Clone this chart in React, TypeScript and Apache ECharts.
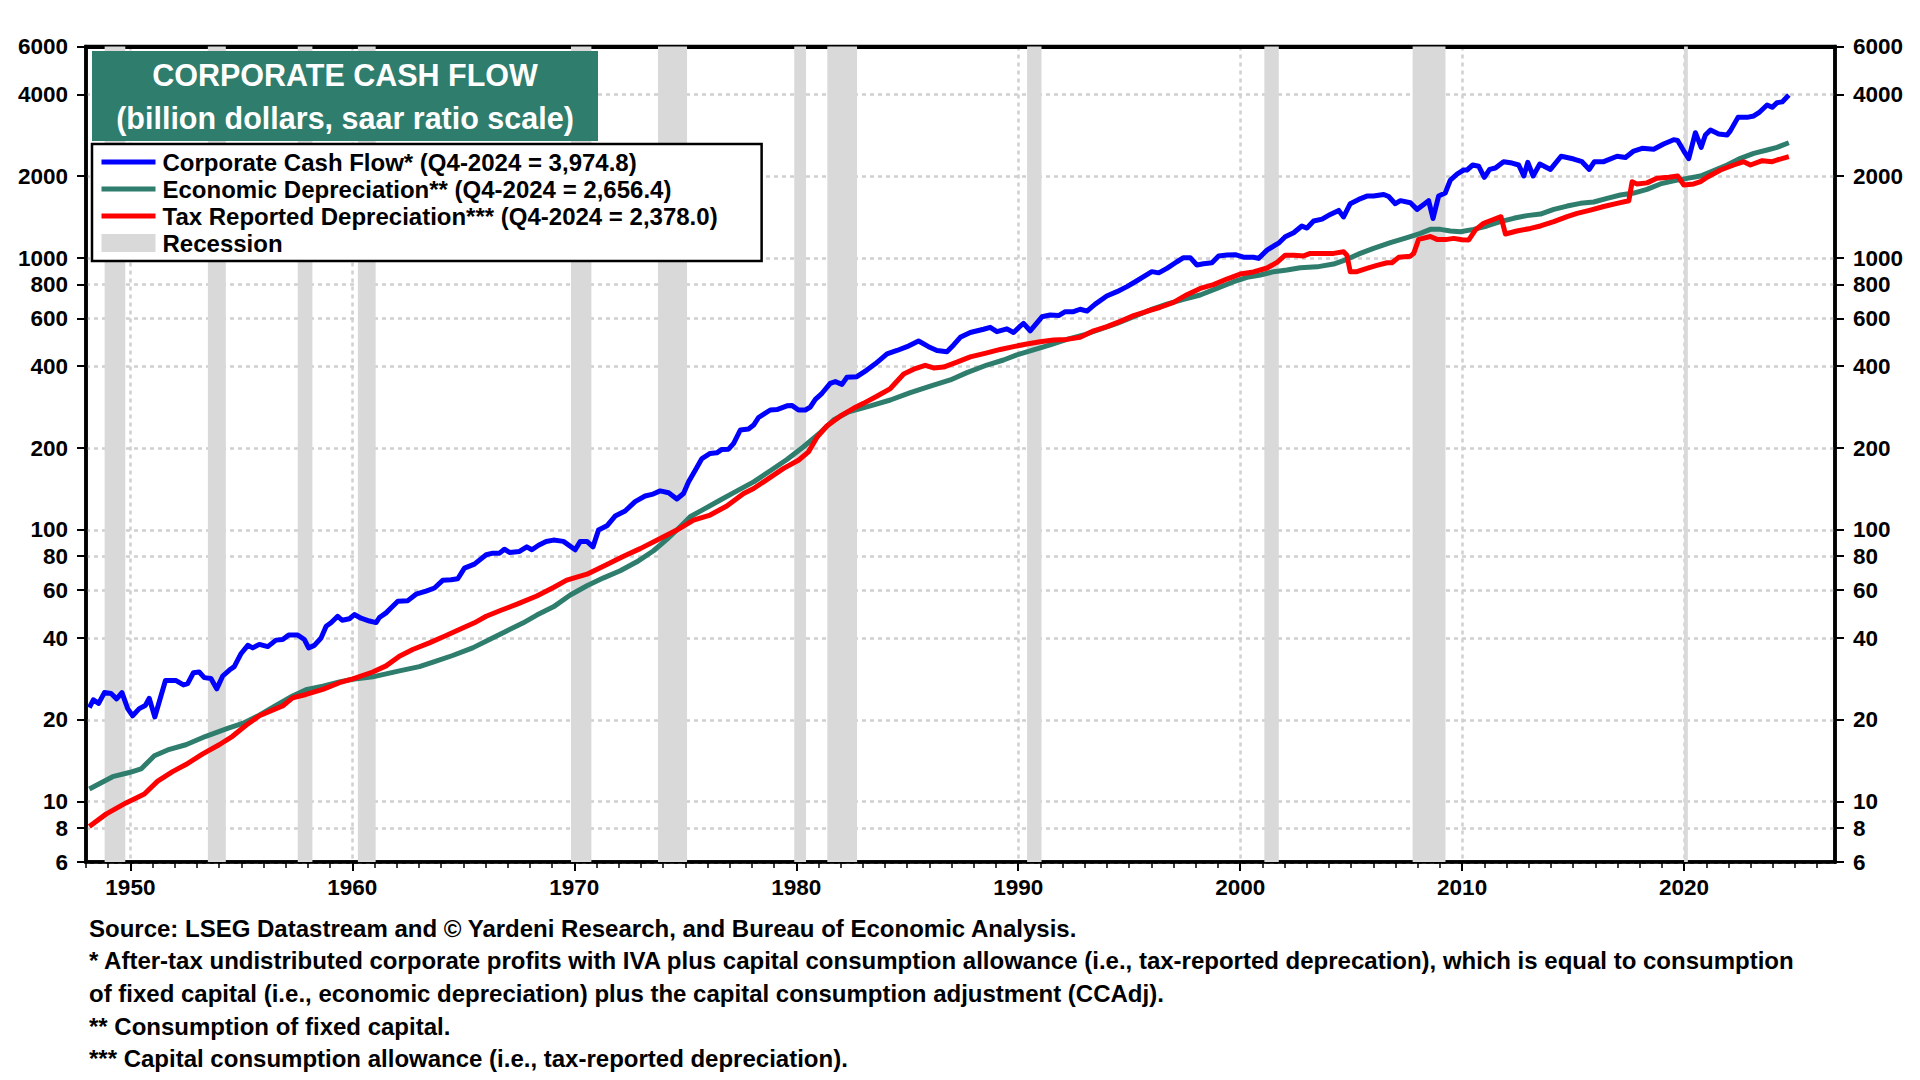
import React, { useEffect, useRef } from 'react';
import * as echarts from 'echarts';

const FONT = '"Liberation Sans", Arial, Helvetica, sans-serif';
const BLUE = '#0000ff';
const TEAL = '#2e7d6d';
const RED = '#ff0000';
const GRAY = '#d9d9d9';

// tick values (left/right axis are ratio scale)
const yTickValues = [6, 8, 10, 20, 40, 60, 80, 100, 200, 400, 600, 800, 1000, 2000, 4000, 6000];
const decadeTicks = [1950, 1960, 1970, 1980, 1990, 2000, 2010, 2020];
const yearTicks: number[] = [];
for (let y = 1948; y <= 2026; y++) yearTicks.push(y);

// recession periods [start, end]
const recessions: [number, number][] = [
  [1948.84, 1949.77], [1953.49, 1954.3], [1957.54, 1958.2], [1960.25, 1961.05],
  [1969.85, 1970.77], [1973.77, 1975.08], [1979.91, 1980.44], [1981.4, 1982.74],
  [1990.4, 1991.05], [2001.09, 2001.74], [2007.77, 2009.25], [2020.0, 2020.17],
];

// [year, billion $]
const cashFlow: [number, number][] = [
  [1948.15, 22.2], [1948.33, 23.7], [1948.57, 23.0], [1948.83, 25.2], [1949.13, 25.0], [1949.38, 23.9],
  [1949.62, 25.2], [1949.88, 22.0], [1950.1, 20.7], [1950.4, 22.0], [1950.67, 22.6], [1950.85, 24.0],
  [1951.1, 20.5], [1951.58, 27.9], [1952.06, 27.9], [1952.39, 26.9], [1952.58, 27.2], [1952.84, 29.8],
  [1953.1, 30.0], [1953.33, 28.6], [1953.63, 28.4], [1953.89, 26.0], [1954.16, 29.0], [1954.46, 30.5],
  [1954.68, 31.4], [1954.99, 35.1], [1955.29, 37.6], [1955.51, 36.8], [1955.81, 37.9], [1956.19, 37.2],
  [1956.56, 39.3], [1956.86, 39.5], [1957.13, 41.0], [1957.54, 41.0], [1957.84, 39.5], [1958.03, 36.8],
  [1958.29, 37.6], [1958.59, 40.0], [1958.82, 44.2], [1959.04, 45.5], [1959.34, 48.1], [1959.54, 46.5],
  [1959.87, 47.1], [1960.09, 48.8], [1960.39, 47.3], [1960.77, 46.2], [1961.07, 45.6], [1961.22, 47.6],
  [1961.52, 49.5], [1961.74, 51.6], [1962.05, 54.6], [1962.5, 54.9], [1962.87, 58.0], [1963.32, 59.5],
  [1963.7, 61.1], [1964.07, 65.2], [1964.45, 65.5], [1964.75, 66.1], [1965.05, 72.3], [1965.5, 74.8],
  [1966.03, 81.0], [1966.33, 82.1], [1966.63, 82.1], [1966.85, 84.9], [1967.08, 82.6], [1967.53, 83.3],
  [1967.86, 86.6], [1968.09, 84.5], [1968.39, 87.8], [1968.73, 90.6], [1969.06, 91.7], [1969.51, 90.7],
  [1970.04, 84.5], [1970.27, 90.7], [1970.57, 90.7], [1970.84, 86.6], [1971.09, 99.8], [1971.47, 103.5],
  [1971.84, 112.4], [1972.29, 117.3], [1972.74, 127], [1973.19, 133.2], [1973.5, 135], [1973.87, 139.1],
  [1974.25, 136.9], [1974.62, 129.9], [1974.92, 136.1], [1975.15, 150.2], [1975.45, 165.7], [1975.75, 183],
  [1976.12, 191], [1976.42, 192], [1976.65, 197.7], [1976.95, 198], [1977.18, 208], [1977.48, 233],
  [1977.85, 235], [1978.08, 243], [1978.3, 259], [1978.83, 276], [1979.13, 277], [1979.58, 286],
  [1979.8, 287], [1980.1, 276], [1980.41, 276], [1980.63, 283], [1980.86, 302], [1981.16, 318],
  [1981.53, 346], [1981.76, 351], [1982.06, 343], [1982.28, 364], [1982.73, 366], [1983.18, 387],
  [1983.56, 408], [1984.09, 444], [1984.54, 457], [1984.99, 472], [1985.51, 495], [1985.96, 472],
  [1986.34, 457], [1986.79, 452], [1987.09, 479], [1987.39, 511], [1987.84, 532], [1988.44, 547],
  [1988.74, 556], [1989.04, 536], [1989.49, 549], [1989.79, 532], [1990.06, 559], [1990.24, 575],
  [1990.54, 540], [1991.07, 608], [1991.44, 617], [1991.82, 614], [1992.12, 635], [1992.49, 635],
  [1992.79, 648], [1993.1, 638], [1993.47, 677], [1993.99, 725], [1994.45, 752], [1994.9, 785],
  [1995.35, 825], [1995.65, 854], [1996.02, 891], [1996.33, 882], [1996.7, 916], [1997.15, 969],
  [1997.45, 1003], [1997.75, 1003], [1998.05, 943], [1998.35, 953], [1998.73, 960], [1999.03, 1018],
  [1999.4, 1025], [1999.78, 1029], [2000.15, 1007], [2000.6, 1007], [2000.83, 997], [2001.21, 1069],
  [2001.51, 1107], [2001.73, 1134], [2002.03, 1197], [2002.41, 1239], [2002.78, 1311], [2003.01, 1289],
  [2003.31, 1368], [2003.69, 1390], [2004.06, 1447], [2004.44, 1497], [2004.66, 1417], [2004.96, 1584],
  [2005.34, 1643], [2005.71, 1690], [2006.01, 1690], [2006.47, 1714], [2006.69, 1683], [2006.99, 1584],
  [2007.22, 1626], [2007.67, 1597], [2007.97, 1510], [2008.27, 1575], [2008.49, 1626], [2008.69, 1398],
  [2008.94, 1690], [2009.24, 1735], [2009.47, 1936], [2009.77, 2037], [2010.07, 2108], [2010.22, 2108],
  [2010.48, 2199], [2010.75, 2175], [2011.0, 1981], [2011.24, 2118], [2011.5, 2143], [2011.87, 2262],
  [2012.25, 2236], [2012.55, 2199], [2012.78, 2003], [2012.96, 2250], [2013.2, 2003], [2013.5, 2218],
  [2013.98, 2118], [2014.46, 2369], [2014.73, 2343], [2015.03, 2313], [2015.4, 2262], [2015.73, 2118],
  [2015.96, 2262], [2016.38, 2262], [2016.98, 2369], [2017.36, 2343], [2017.73, 2475], [2018.11, 2532],
  [2018.63, 2513], [2019.08, 2627], [2019.53, 2725], [2019.71, 2705], [2019.99, 2475], [2020.21, 2320],
  [2020.51, 2891], [2020.77, 2554], [2020.96, 2835], [2021.19, 2957], [2021.56, 2859], [2021.94, 2835],
  [2022.09, 2942], [2022.43, 3292], [2022.84, 3292], [2023.14, 3331], [2023.37, 3424], [2023.74, 3655],
  [2023.97, 3584], [2024.19, 3728], [2024.42, 3753], [2024.72, 3975],
];

const economicDep: [number, number][] = [
  [1948.15, 11.13], [1949.2, 12.36], [1949.95, 12.8], [1950.48, 13.2], [1951.08, 14.75], [1951.68, 15.5],
  [1952.5, 16.2], [1953.4, 17.4], [1954.38, 18.6], [1955.06, 19.4], [1955.81, 20.8], [1956.64, 22.8],
  [1957.31, 24.5], [1957.91, 25.8], [1958.67, 26.6], [1959.42, 27.6], [1960.02, 28.2], [1960.92, 28.8],
  [1962.12, 30.3], [1963.02, 31.4], [1963.77, 32.9], [1964.52, 34.5], [1965.42, 36.8], [1966.18, 39.5],
  [1966.93, 42.4], [1967.68, 45.4], [1968.31, 48.6], [1969.06, 52.1], [1969.82, 57.6], [1970.57, 62.3],
  [1971.32, 66.6], [1972.07, 70.7], [1972.82, 76.3], [1973.57, 83.8], [1974.17, 92.2], [1974.77, 102.7],
  [1975.22, 111.7], [1975.82, 118.9], [1976.58, 128.8], [1977.33, 139.1], [1978.08, 150.2], [1978.83, 165],
  [1979.58, 181.5], [1980.33, 202.2], [1981.08, 228], [1981.68, 253.5], [1982.36, 272], [1983.34, 286],
  [1984.24, 300.4], [1985.14, 320], [1986.04, 338], [1986.94, 356], [1987.69, 378.7], [1988.59, 404],
  [1989.34, 421.6], [1989.94, 440], [1990.69, 459], [1991.44, 479], [1992.19, 502], [1992.95, 521],
  [1993.7, 547], [1994.45, 575], [1995.2, 608], [1995.95, 644], [1996.7, 677], [1997.45, 705],
  [1998.2, 731], [1998.95, 773], [1999.71, 818], [2000.31, 849], [2000.91, 866], [2001.51, 891],
  [2002.11, 903], [2002.71, 921], [2003.46, 928], [2004.21, 950], [2004.81, 989], [2005.41, 1040],
  [2006.01, 1085], [2006.77, 1139], [2007.52, 1188], [2008.12, 1232], [2008.57, 1275], [2009.02, 1275],
  [2009.47, 1257], [2009.92, 1250], [2010.52, 1275], [2011.12, 1312], [2011.72, 1361], [2012.32, 1400],
  [2012.92, 1432], [2013.53, 1451], [2014.13, 1510], [2014.73, 1553], [2015.33, 1589], [2015.93, 1607],
  [2016.53, 1658], [2017.13, 1705], [2017.73, 1734], [2018.33, 1789], [2018.93, 1873], [2019.53, 1925],
  [2020.14, 1964], [2020.74, 2003], [2021.34, 2096], [2021.94, 2199], [2022.54, 2327], [2023.14, 2427],
  [2023.74, 2497], [2024.19, 2554], [2024.72, 2656],
];

const taxDep: [number, number][] = [
  [1948.15, 8.11], [1948.9, 9.0], [1949.8, 9.9], [1950.63, 10.67], [1951.23, 11.9], [1951.9, 12.9],
  [1952.5, 13.7], [1953.26, 15.0], [1954.0, 16.2], [1954.6, 17.4], [1955.21, 19.1], [1955.81, 20.7],
  [1956.56, 22.0], [1956.86, 22.5], [1957.31, 24.1], [1957.91, 24.8], [1958.67, 25.9], [1959.42, 27.4],
  [1960.02, 28.3], [1960.92, 30.0], [1961.52, 31.6], [1962.12, 34.3], [1962.72, 36.3], [1963.47, 38.4],
  [1964.15, 40.6], [1964.82, 43.0], [1965.5, 45.5], [1966.03, 48.1], [1966.7, 50.6], [1967.45, 53.4],
  [1968.31, 57.1], [1969.06, 61.4], [1969.66, 65.3], [1970.57, 68.7], [1971.47, 74.6], [1972.22, 80.0],
  [1972.97, 85.3], [1973.87, 93.0], [1974.62, 99.8], [1975.37, 108.6], [1976.12, 113.4], [1976.87, 122.4],
  [1977.63, 136.1], [1978.08, 142], [1978.53, 150.2], [1979.43, 168.3], [1980.1, 180.4], [1980.55, 193.6],
  [1980.93, 218.8], [1981.38, 241], [1981.98, 262], [1982.58, 280], [1983.03, 292], [1983.63, 310],
  [1984.24, 331], [1984.84, 374.5], [1985.29, 390], [1985.81, 403], [1986.19, 394], [1986.64, 397],
  [1987.24, 414], [1987.84, 433], [1988.59, 448], [1989.19, 461], [1989.79, 472], [1990.39, 483],
  [1990.99, 492], [1991.59, 499], [1992.19, 502], [1992.79, 511], [1993.4, 540], [1994.0, 559],
  [1994.6, 585], [1995.2, 614], [1995.8, 637], [1996.4, 659], [1997.0, 687], [1997.6, 733],
  [1998.2, 773], [1998.8, 798], [1999.4, 837], [2000.0, 873], [2000.6, 889], [2001.21, 919],
  [2001.66, 964], [2002.03, 1024], [2002.41, 1024], [2002.86, 1018], [2003.16, 1040], [2003.61, 1040],
  [2004.21, 1040], [2004.66, 1054], [2004.81, 1024], [2004.96, 891], [2005.26, 891], [2005.71, 916],
  [2006.16, 939], [2006.62, 961], [2006.84, 961], [2007.14, 1006], [2007.67, 1016], [2007.82, 1040],
  [2008.04, 1171], [2008.57, 1200], [2008.87, 1171], [2009.32, 1171], [2009.62, 1181], [2010.0, 1167],
  [2010.3, 1166], [2010.6, 1269], [2010.97, 1343], [2011.35, 1380], [2011.75, 1419], [2011.95, 1226],
  [2012.47, 1257], [2013.08, 1285], [2013.53, 1312], [2014.13, 1361], [2014.73, 1419], [2015.18, 1459],
  [2015.78, 1501], [2016.38, 1547], [2016.98, 1589], [2017.51, 1625], [2017.66, 1909], [2017.88, 1873],
  [2018.33, 1890], [2018.78, 1964], [2019.31, 1982], [2019.71, 2003], [2019.99, 1856], [2020.44, 1873],
  [2020.74, 1909], [2021.04, 1982], [2021.64, 2108], [2022.24, 2199], [2022.69, 2262], [2022.99, 2199],
  [2023.52, 2281], [2023.97, 2262], [2024.19, 2294], [2024.72, 2359],
];

const seriesNames = [
  'Corporate Cash Flow* (Q4-2024 = 3,974.8)',
  'Economic Depreciation** (Q4-2024 = 2,656.4)',
  'Tax Reported Depreciation*** (Q4-2024 = 2,378.0)',
];

const footnotes = [
  'Source: LSEG Datastream and \u00a9 Yardeni Research, and Bureau of Economic Analysis.',
  '* After-tax undistributed corporate profits with IVA plus capital consumption allowance (i.e., tax-reported deprecation), which is equal to consumption',
  'of fixed capital (i.e., economic depreciation) plus the capital consumption adjustment (CCAdj).',
  '** Consumption of fixed capital.',
  '*** Capital consumption allowance (i.e., tax-reported depreciation).',
];

// ratio scale: plot log10 of the values on a linear axis
const toLog = (pts: [number, number][]) => pts.map(([x, v]) => [x, Math.log10(v)]);
const yMin = Math.log10(yTickValues[0]);
const yMax = Math.log10(yTickValues[yTickValues.length - 1]);
const yCustom = yTickValues.map((v) => Math.log10(v));
const fmtY = (v: number) => String(Math.round(Math.pow(10, v)));

const gridLine = { color: '#d0d0d0', width: 2.5, type: [4, 4] as number[] };
const labelFont = { fontSize: 22.5, fontWeight: 'bold' as const, color: '#000', fontFamily: FONT };

const App: React.FC = () => {
  const chartRef = useRef<HTMLDivElement>(null);

  useEffect(() => {
    document.body.style.margin = '0';
    if (!chartRef.current) return;
    const chart = echarts.init(chartRef.current, undefined, { renderer: 'svg' });

    const lineSeries = (name: string, pts: [number, number][], color: string, z: number) => ({
      name,
      type: 'line',
      data: toLog(pts),
      showSymbol: false,
      symbol: 'none',
      z,
      itemStyle: { color },
      lineStyle: { color, width: 5, join: 'round' },
    });

    const option: any = {
      animation: false,
      backgroundColor: '#fff',
      textStyle: { fontFamily: FONT },
      title: {
        text: 'CORPORATE CASH FLOW\n(billion dollars, saar ratio scale)',
        left: 345,
        top: 53,
        textAlign: 'center',
        padding: 0,
        z: 12,
        textStyle: { color: '#fff', fontSize: 30.5, fontWeight: 'bold', lineHeight: 43, fontFamily: FONT },
      },
      legend: {
        orient: 'vertical',
        left: 92,
        top: 144,
        z: 12,
        selectedMode: false,
        backgroundColor: '#fff',
        borderColor: '#000',
        borderWidth: 2.5,
        padding: [6, 44, 6, 7],
        itemWidth: 54,
        itemHeight: 18,
        itemGap: 3,
        itemStyle: { opacity: 0 },
        lineStyle: { width: 5 },
        textStyle: { fontSize: 24, fontWeight: 'bold', color: '#000', fontFamily: FONT, padding: [0, 0, 0, 2] },
        data: [
          seriesNames[0],
          seriesNames[1],
          seriesNames[2],
          { name: 'Recession', icon: 'rect', itemStyle: { opacity: 1, color: GRAY } },
        ],
      },
      grid: {
        left: 86,
        right: 85,
        top: 46.5,
        bottom: 218,
        show: true,
        borderColor: '#000',
        borderWidth: 3.5,
        backgroundColor: 'transparent',
      },
      graphic: [
        { type: 'rect', z: 11, shape: { x: 92, y: 51, width: 506, height: 90 }, style: { fill: TEAL } },
        ...footnotes.map((t, i) => ({
          type: 'text',
          x: 89,
          y: 928 + i * 32.7,
          style: { text: t, fill: '#000', fontSize: 24, fontWeight: 'bold', fontFamily: FONT, verticalAlign: 'middle' },
        })),
      ],
      xAxis: [
        {
          type: 'value',
          min: 1948,
          max: 2026.8,
          axisLine: { show: true, lineStyle: { color: '#000', width: 3.5 } },
          axisTick: { show: true, customValues: decadeTicks, length: 9, lineStyle: { color: '#000', width: 2 } },
          axisLabel: { show: true, customValues: decadeTicks, formatter: (v: number) => String(v), margin: 14, ...labelFont },
          splitLine: { show: true, lineStyle: gridLine },
        },
        {
          type: 'value',
          position: 'bottom',
          min: 1948,
          max: 2026.8,
          axisLine: { show: false },
          axisTick: { show: true, customValues: yearTicks, length: 6, lineStyle: { color: '#000', width: 1.5 } },
          axisLabel: { show: false },
          splitLine: { show: false },
        },
        {
          // solid top frame line
          type: 'value',
          position: 'top',
          min: 1948,
          max: 2026.8,
          axisLine: { show: true, lineStyle: { color: '#000', width: 4 } },
          axisTick: { show: false },
          axisLabel: { show: false },
          splitLine: { show: false },
        },
      ],
      yAxis: [
        {
          type: 'value',
          position: 'left',
          min: yMin,
          max: yMax,
          axisLine: { show: true, lineStyle: { color: '#000', width: 3.5 } },
          axisTick: { show: true, customValues: yCustom, length: 9, lineStyle: { color: '#000', width: 2 } },
          axisLabel: { show: true, customValues: yCustom, formatter: fmtY, margin: 18, ...labelFont },
          splitLine: { show: true, lineStyle: gridLine },
        },
        {
          type: 'value',
          position: 'right',
          min: yMin,
          max: yMax,
          axisLine: { show: true, lineStyle: { color: '#000', width: 3.5 } },
          axisTick: { show: true, customValues: yCustom, length: 9, lineStyle: { color: '#000', width: 2 } },
          axisLabel: { show: true, customValues: yCustom, formatter: fmtY, margin: 18, ...labelFont },
          splitLine: { show: false },
        },
      ],
      series: [
        {
          name: 'Recession',
          type: 'line',
          data: [],
          z: 1,
          itemStyle: { color: GRAY },
          lineStyle: { color: GRAY },
          markArea: {
            silent: true,
            itemStyle: { color: GRAY },
            data: recessions.map(([s, e]) => [{ xAxis: s }, { xAxis: e }]),
          },
        },
        lineSeries(seriesNames[0], cashFlow, BLUE, 3),
        lineSeries(seriesNames[1], economicDep, TEAL, 3),
        lineSeries(seriesNames[2], taxDep, RED, 4),
      ],
    };

    chart.setOption(option);
    return () => chart.dispose();
  }, []);

  return <div ref={chartRef} style={{ width: 1920, height: 1080, background: '#fff' }} />;
};

export default App;
